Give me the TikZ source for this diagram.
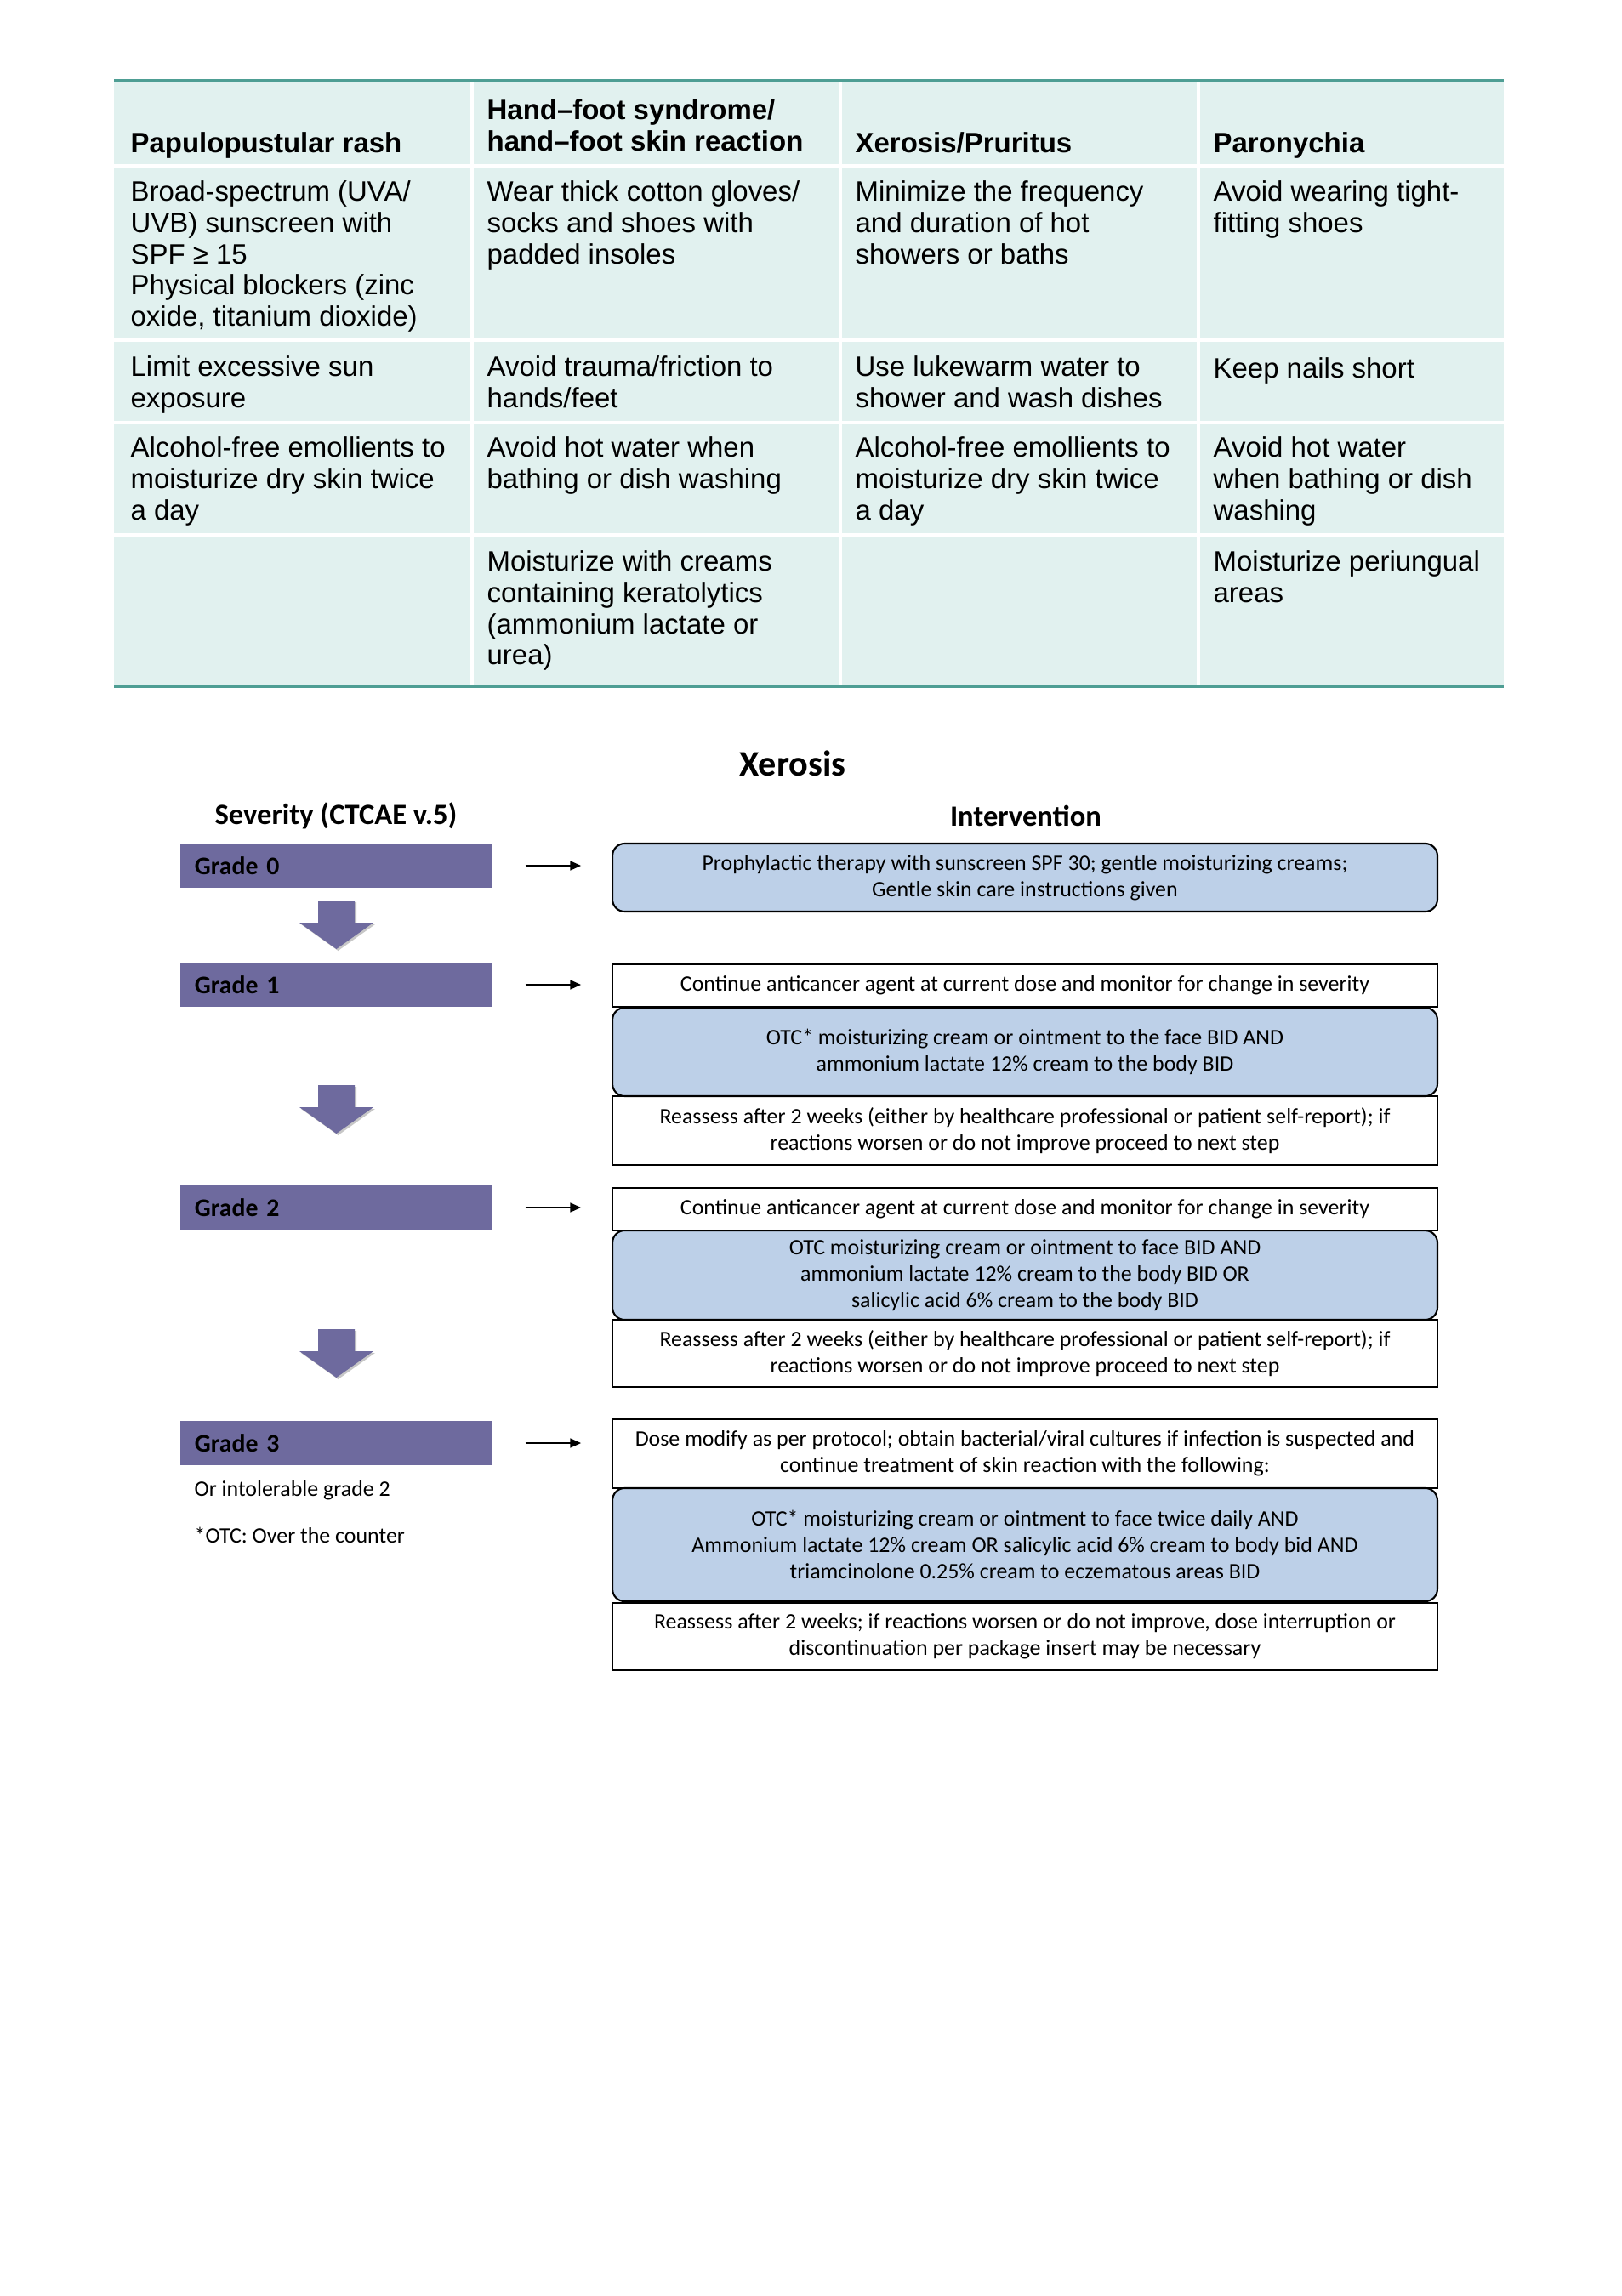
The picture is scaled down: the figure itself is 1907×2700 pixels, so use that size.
\documentclass[tikz,border=0pt]{standalone}
\usepackage{fontspec}
\setmainfont{Liberation Sans}
\newfontfamily\calibri{Carlito}
\usetikzlibrary{arrows.meta}

\definecolor{tealline}{RGB}{78,158,148}
\definecolor{cellfill}{RGB}{225,241,239}
\definecolor{gradepurple}{RGB}{110,106,158}
\definecolor{boxblue}{RGB}{189,208,232}

\tikzset{
  headcell/.style={anchor=north west, inner sep=0pt, align=left,
    font=\bfseries\fontsize{10.3}{11.5}\selectfont, execute at begin node=\strut},
  bodycell/.style={anchor=north west, inner sep=0pt, align=left,
    font=\fontsize{10.3}{11.5}\selectfont, execute at begin node=\strut},
  gradebar/.style={fill=gradepurple, inner xsep=5.3pt, inner ysep=0pt, text width=104.1pt,
    minimum height=16.25pt, align=left, font=\calibri\bfseries\fontsize{9.3}{11}\selectfont},
  plainbox/.style={draw, line width=0.65pt, fill=white, minimum width=303.1pt, inner sep=0pt,
    align=center, font=\calibri\fontsize{8.1}{9.7}\selectfont},
  bluebox/.style={plainbox, fill=boxblue, rounded corners=4.5pt},
  smallarrow/.style={-{Triangle[length=4pt,width=3.4pt]}, line width=0.6pt},
  note/.style={anchor=west, inner sep=0pt, font=\calibri\fontsize{8.1}{9.7}\selectfont}
}

\begin{document}
\begin{tikzpicture}[x=0.3125pt, y=-0.3125pt]
\useasboundingbox (0,0) rectangle (1907,2700);
\fill[white] (0,0) rectangle (1907,2700);

% Table background and rules
\fill[cellfill] (134,96) rectangle (1768,806);
\foreach \ry in {194.5,400,497,629}
  \draw[white, line width=1.25pt] (134,\ry) -- (1768,\ry);
\foreach \cx in {555,988,1409}
  \draw[white, line width=1.25pt] (\cx,96) -- (\cx,806);
\draw[tealline, line width=1.3pt] (134,95) -- (1768,95);
\draw[tealline, line width=1.3pt] (134,807) -- (1768,807);

% Table header
\node[headcell] (head1) at (153,153) {Papulopustular rash};
\node[headcell] (head2) at (572,116) {Hand–foot syndrome/\\hand–foot skin reaction};
\node[headcell] (head3) at (1005,153) {Xerosis/Pruritus};
\node[headcell] (head4) at (1426,153) {Paronychia};

% Row 1
\node[bodycell] (r1c1) at (153,212) {Broad-spectrum (UVA/\\UVB) sunscreen with\\SPF ≥ 15\\Physical blockers (zinc\\oxide, titanium dioxide)};
\node[bodycell] (r1c2) at (572,212) {Wear thick cotton gloves/\\socks and shoes with\\padded insoles};
\node[bodycell] (r1c3) at (1005,212) {Minimize the frequency\\and duration of hot\\showers or baths};
\node[bodycell] (r1c4) at (1426,212) {Avoid wearing tight-\\fitting shoes};

% Row 2
\node[bodycell] (r2c1) at (153,418) {Limit excessive sun\\exposure};
\node[bodycell] (r2c2) at (572,418) {Avoid trauma/friction to\\hands/feet};
\node[bodycell] (r2c3) at (1005,418) {Use lukewarm water to\\shower and wash dishes};
\node[bodycell] (r2c4) at (1426,418) {Keep nails short};

% Row 3
\node[bodycell] (r3c1) at (153,513) {Alcohol-free emollients to\\moisturize dry skin twice\\a day};
\node[bodycell] (r3c2) at (572,513) {Avoid hot water when\\bathing or dish washing};
\node[bodycell] (r3c3) at (1005,513) {Alcohol-free emollients to\\moisturize dry skin twice\\a day};
\node[bodycell] (r3c4) at (1426,513) {Avoid hot water\\when bathing or dish\\washing};

% Row 4
\node[bodycell] (r4c2) at (572,647) {Moisturize with creams\\containing keratolytics\\(ammonium lactate or\\urea)};
\node[bodycell] (r4c4) at (1426,647) {Moisturize periungual\\areas};

% Flowchart titles
\node[font=\calibri\bfseries\fontsize{13.2}{15}\selectfont] (title) at (932,898) {Xerosis};
\node[font=\calibri\bfseries\fontsize{10.8}{13}\selectfont] (severity) at (395,959) {Severity (CTCAE v.5)};
\node[font=\calibri\bfseries\fontsize{10.8}{13}\selectfont] (intervention) at (1206,959) {Intervention};

% Grade bars
\node[gradebar] (g0) at (395.5,1018) {Grade 0};
\node[gradebar] (g1) at (395.5,1158) {Grade 1};
\node[gradebar] (g2) at (395.5,1420) {Grade 2};
\node[gradebar] (g3) at (395.5,1697) {Grade 3};

% Down arrows between grades
\foreach \ay in {1059,1276,1563} {
  \fill[black!22] (376,\ay+2) -- (419,\ay+2) -- (419,\ay+28) -- (441,\ay+28) -- (397.5,\ay+59) -- (354,\ay+28) -- (376,\ay+28) -- cycle;
  \fill[gradepurple] (374,\ay) -- (417,\ay) -- (417,\ay+26) -- (439,\ay+26) -- (395.5,\ay+57) -- (352,\ay+26) -- (374,\ay+26) -- cycle;
}

% Intervention boxes
\node[bluebox, minimum height=25pt] (i0) at (1205,1032) {Prophylactic therapy with sunscreen SPF 30; gentle moisturizing creams;\\Gentle skin care instructions given};

\node[plainbox, minimum height=15.6pt] (i1a) at (1205,1159) {Continue anticancer agent at current dose and monitor for change in severity};
\node[plainbox, minimum height=25.3pt] (i1c) at (1205,1329.5) {Reassess after 2 weeks (either by healthcare professional or patient self-report); if\\reactions worsen or do not improve proceed to next step};
\node[bluebox, minimum height=32.5pt] (i1b) at (1205,1237) {OTC* moisturizing cream or ointment to the face BID AND\\ammonium lactate 12\% cream to the body BID};

\node[plainbox, minimum height=15.6pt] (i2a) at (1205,1422) {Continue anticancer agent at current dose and monitor for change in severity};
\node[plainbox, minimum height=24.7pt] (i2c) at (1205,1591.5) {Reassess after 2 weeks (either by healthcare professional or patient self-report); if\\reactions worsen or do not improve proceed to next step};
\node[bluebox, minimum height=32.8pt] (i2b) at (1205,1499.5) {OTC moisturizing cream or ointment to face BID AND\\ammonium lactate 12\% cream to the body BID OR\\salicylic acid 6\% cream to the body BID};

\node[plainbox, minimum height=25.3pt] (i3a) at (1205,1709.5) {Dose modify as per protocol; obtain bacterial/viral cultures if infection is suspected and\\continue treatment of skin reaction with the following:};
\node[plainbox, minimum height=24.7pt] (i3c) at (1205,1924.5) {Reassess after 2 weeks; if reactions worsen or do not improve, dose interruption or\\discontinuation per package insert may be necessary};
\node[bluebox, minimum height=41.6pt] (i3b) at (1205,1816.5) {OTC* moisturizing cream or ointment to face twice daily AND\\Ammonium lactate 12\% cream OR salicylic acid 6\% cream to body bid AND\\triamcinolone 0.25\% cream to eczematous areas BID};

% Arrows from grades to interventions
\draw[smallarrow, shorten <=11.9pt, shorten >=11.2pt] (g0.east) -- (g0.east -| i0.west);
\draw[smallarrow, shorten <=11.9pt, shorten >=11.2pt] (g1.east) -- (g1.east -| i1a.west);
\draw[smallarrow, shorten <=11.9pt, shorten >=11.2pt] (g2.east) -- (g2.east -| i2a.west);
\draw[smallarrow, shorten <=11.9pt, shorten >=11.2pt] (g3.east) -- (g3.east -| i3a.west);

% Notes under grade 3
\node[note] (intol) at (228,1753) {Or intolerable grade 2};
\node[note] (otcnote) at (228,1805) {*OTC: Over the counter};

\end{tikzpicture}
\end{document}
